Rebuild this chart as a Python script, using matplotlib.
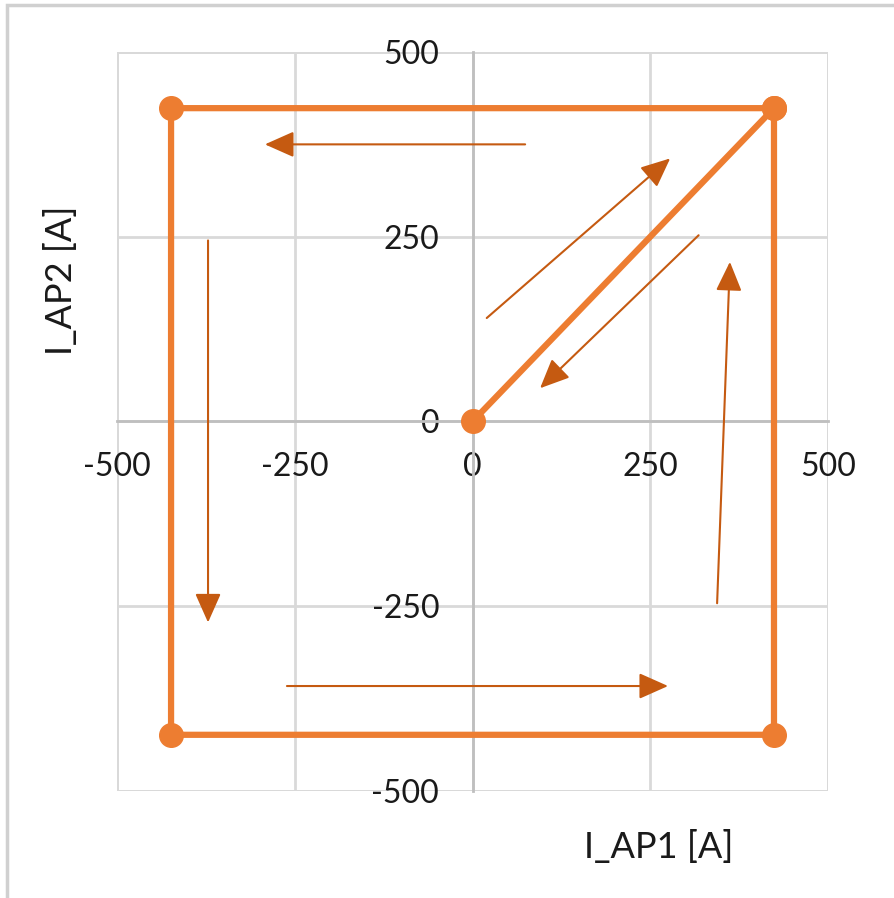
import matplotlib.pyplot as plt
from matplotlib.patches import Rectangle

# Current trajectory in the I_AP1 / I_AP2 plane
i_ap1 = [0, 424, -424, -424, 424, 424]
i_ap2 = [0, 424, 424, -424, -424, 424]

# Direction arrows: (x_start, y_start, x_end, y_end)
arrows = [
    (74, 375, -292, 375),
    (20, 140, 278, 356),
    (318, 252, 95, 45),
    (344, -246, 362, 216),
    (-372, 245, -372, -272),
    (-261, -358, 275, -358),
]

ticks = [-500, -250, 0, 250, 500]
tick_labels = ['-500', '-250', '0', '250', '500']

line_color = '#ED7D31'
arrow_color = '#C55A11'
grid_color = '#D9D9D9'
text_color = '#1a1a1a'

plt.rcParams['font.family'] = ['Lato', 'DejaVu Sans']

fig = plt.figure(figsize=(8.94, 8.98), dpi=100)
fig.patches.append(Rectangle((0.008, -0.1), 1.2, 1.094, transform=fig.transFigure,
                             fill=False, edgecolor='#D0D0D0', linewidth=2.5))
ax = fig.add_axes([0.1309, 0.1192, 0.7953, 0.8229])

ax.set_xlim(-500, 500)
ax.set_ylim(-500, 500)
ax.set_xticks(ticks)
ax.set_yticks(ticks)
ax.set_xticklabels(tick_labels)
ax.set_yticklabels(tick_labels)
ax.grid(True, color=grid_color, linewidth=2)
ax.set_axisbelow(True)

for side in ['top', 'right']:
    ax.spines[side].set_visible(False)
ax.spines['left'].set_position('zero')
ax.spines['bottom'].set_position('zero')
for side in ['left', 'bottom']:
    ax.spines[side].set_color('#BFBFBF')
    ax.spines[side].set_linewidth(2)
ax.tick_params(length=0, labelsize=23, labelcolor=text_color)
ax.tick_params(axis='x', pad=22)
ax.tick_params(axis='y', pad=24)

# outer plot frame
ax.add_patch(Rectangle((-500, -500), 1000, 1000, fill=False,
                       edgecolor=grid_color, linewidth=2, zorder=0.5))

ax.plot(i_ap1, i_ap2, color=line_color, linewidth=4.5, marker='o',
        markersize=17, zorder=3)

for x0, y0, x1, y1 in arrows:
    ax.annotate('', xy=(x1, y1), xytext=(x0, y0),
                arrowprops=dict(arrowstyle='-|>,head_length=1.8,head_width=0.8',
                                color=arrow_color, linewidth=1.5,
                                shrinkA=0, shrinkB=0),
                zorder=4)

fig.text(0.068, 0.688, 'I_AP2 [A]', rotation=90, ha='center', va='center',
         fontsize=26, color=text_color)
fig.text(0.737, 0.057, 'I_AP1 [A]', ha='center', va='center',
         fontsize=26, color=text_color)

fig.savefig('out.png', dpi=100)
